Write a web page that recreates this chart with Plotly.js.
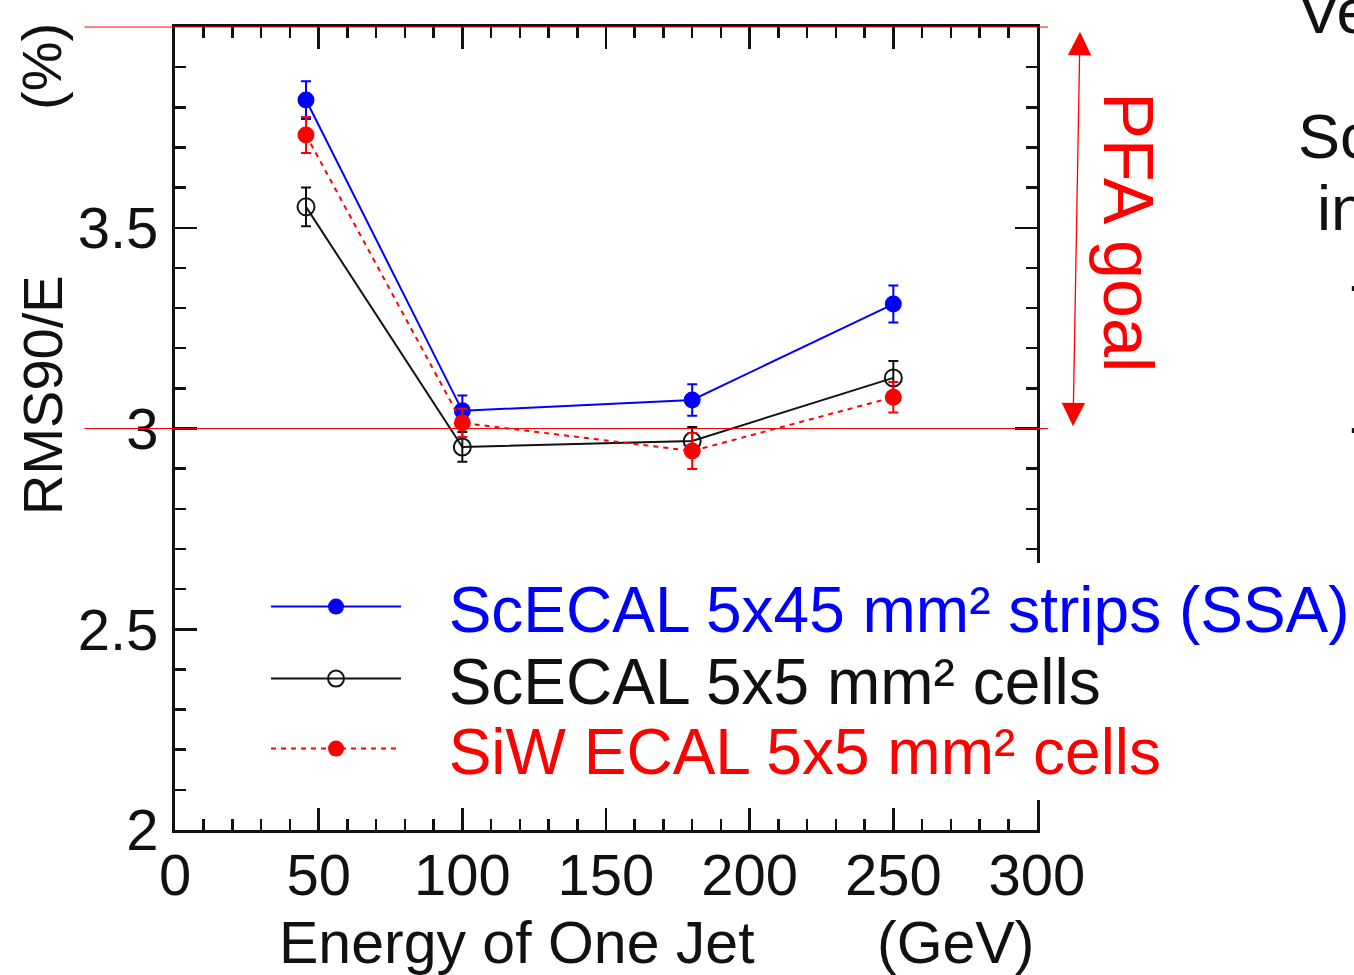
<!DOCTYPE html>
<html><head><meta charset="utf-8">
<script src="https://cdn.plot.ly/plotly-3.0.1.min.js"></script>
<style>html,body{margin:0;padding:0;background:#fff;}</style>
</head><body><div id="chart" style="width:1354px;height:975px;"></div>
<script>
// Energy of one jet (GeV)
const energy = [45.6, 100, 180, 250];
// RMS90/E (%)
const ssaStrips = [3.818, 3.044, 3.071, 3.310];
const ssaErr = [0.047, 0.038, 0.039, 0.046];
const scCells = [3.552, 2.954, 2.969, 3.126];
const scErr = [0.048, 0.037, 0.035, 0.042];
const siwCells = [3.731, 3.014, 2.944, 3.078];
const siwErr = [0.045, 0.035, 0.045, 0.038];
const seriesNames = ['ScECAL 5x45 mm² strips (SSA)', 'ScECAL 5x5 mm² cells', 'SiW ECAL 5x5 mm² cells'];
const xTickVals = [0, 50, 100, 150, 200, 250, 300];
const yTickVals = [2, 2.5, 3, 3.5, 4];
const yTickText = ['2', '2.5', '3', '3.5', '4'];
const pfaGoal = [3, 4];

const FONT = 'Liberation Sans, Arial, Helvetica, sans-serif';
const BLUE = '#0000ff', BLACK = '#111111', RED = '#ff0000';
const GAP = '\u2002\u2006';

const traces = [
  {x: energy, y: ssaStrips, name: GAP + seriesNames[0], type: 'scatter', mode: 'lines+markers',
   legend: 'legend',
   line: {color: BLUE, width: 2},
   marker: {color: BLUE, size: 17, symbol: 'circle'},
   error_y: {type: 'data', array: ssaErr, visible: true, color: BLUE, thickness: 2, width: 5}},
  {x: energy, y: scCells, name: GAP + seriesNames[1], type: 'scatter', mode: 'lines+markers',
   legend: 'legend2',
   line: {color: BLACK, width: 2},
   marker: {color: BLACK, size: 17, symbol: 'circle-open', line: {width: 2, color: BLACK}},
   error_y: {type: 'data', array: scErr, visible: true, color: BLACK, thickness: 2, width: 5}},
  {x: energy, y: siwCells, name: GAP + seriesNames[2], type: 'scatter', mode: 'lines+markers',
   legend: 'legend3',
   line: {color: RED, width: 2, dash: '5px,5px'},
   marker: {color: RED, size: 17, symbol: 'circle'},
   error_y: {type: 'data', array: siwErr, visible: true, color: RED, thickness: 2, width: 5}}
];

function px2py(p) { return (830 - p) / 803; }
function px2px(p) { return (p - 175) / 862; }

const legendBase = {xanchor: 'left', yanchor: 'middle', bgcolor: 'rgba(0,0,0,0)', borderwidth: 0,
  itemwidth: 130, x: px2px(266)};

function note(x, y, text, size, color, extra) {
  return Object.assign({xref: 'paper', yref: 'paper', x: x, y: y, text: text,
    xanchor: 'center', yanchor: 'middle', showarrow: false,
    font: {family: FONT, size: size, color: color}}, extra || {});
}

// PFA goal reference lines (drawn as unclipped arrow-less annotation lines at the goal values)
const goalLines = pfaGoal.map(v => ({xref: 'paper', yref: 'y', x: px2px(1048), y: v,
  ax: -(1048 - 83), ay: 0, text: '', showarrow: true, arrowhead: 0, arrowwidth: 1,
  arrowcolor: RED, standoff: 0, startstandoff: 0}));

const layout = {
  width: 1354, height: 975,
  paper_bgcolor: '#ffffff', plot_bgcolor: '#ffffff',
  margin: {l: 175, r: 317, t: 27, b: 145, autoexpand: false},
  font: {family: FONT, color: BLACK},
  showlegend: true,
  legend: Object.assign({}, legendBase, {y: px2py(607), font: {family: FONT, size: 64, color: BLUE}}),
  legend2: Object.assign({}, legendBase, {y: px2py(679), font: {family: FONT, size: 64, color: BLACK}}),
  legend3: Object.assign({}, legendBase, {y: px2py(749), font: {family: FONT, size: 64, color: RED}}),
  xaxis: {range: [0, 300], tickvals: xTickVals, ticktext: xTickVals.map(String),
    showline: true, linecolor: BLACK, linewidth: 3, mirror: 'allticks',
    ticks: 'inside', ticklen: 22, tickwidth: 2.5, tickcolor: BLACK,
    minor: {dtick: 10, ticks: 'inside', ticklen: 11, tickwidth: 2.5, tickcolor: BLACK},
    showgrid: false, zeroline: false,
    tickfont: {family: FONT, size: 58, color: BLACK}, ticklabelstandoff: -8},
  yaxis: {range: [2, 4], tickvals: yTickVals, ticktext: yTickText,
    showline: true, linecolor: BLACK, linewidth: 3, mirror: 'allticks',
    ticks: 'inside', ticklen: 22, tickwidth: 2.5, tickcolor: BLACK,
    minor: {dtick: 0.1, ticks: 'inside', ticklen: 11, tickwidth: 2.5, tickcolor: BLACK},
    showgrid: false, zeroline: false,
    tickfont: {family: FONT, size: 58, color: BLACK}, ticklabelstandoff: 2},
  shapes: [
    // white panel behind the legend, hiding the frame there
    {type: 'rect', xref: 'paper', yref: 'paper', layer: 'above',
     x0: px2px(262), x1: px2px(1354), y0: px2py(800), y1: px2py(563),
     fillcolor: '#ffffff', line: {width: 0}}
  ],
  annotations: goalLines.concat([
    note(px2px(42), px2py(395), 'RMS90/E', 56, BLACK, {textangle: -90}),
    note(px2px(42), px2py(67), '(%)', 56, BLACK, {textangle: -90}),
    note(px2px(517), px2py(943), 'Energy of One Jet', 59, BLACK),
    note(px2px(955), px2py(943), '(GeV)', 59, BLACK),
    {xref: 'paper', yref: 'y', x: px2px(1080), y: 3.988, ax: -7, ay: 396, text: '',
     showarrow: true, arrowside: 'end+start', arrowhead: 2, startarrowhead: 2,
     arrowsize: 3.6, startarrowsize: 3.6, arrowwidth: 1.3, arrowcolor: RED, standoff: 0, startstandoff: 0},
    note(px2px(1128), 3.489, 'PFA goal', 70, RED, {yref: 'y', textangle: 90}),
    note(px2px(1296), px2py(11), 'Ve', 63, BLACK, {xanchor: 'left'}),
    note(px2px(1296), px2py(136), 'Sc', 63, BLACK, {xanchor: 'left'}),
    note(px2px(1315), px2py(208), 'in', 63, BLACK, {xanchor: 'left'}),
    note(px2px(1347), px2py(283), '-', 63, BLACK, {xanchor: 'left'}),
    note(px2px(1347), px2py(425), '-', 63, BLACK, {xanchor: 'left'})
  ])
};

Plotly.newPlot('chart', traces, layout, {staticPlot: true, displayModeBar: false});
</script>
</body></html>
